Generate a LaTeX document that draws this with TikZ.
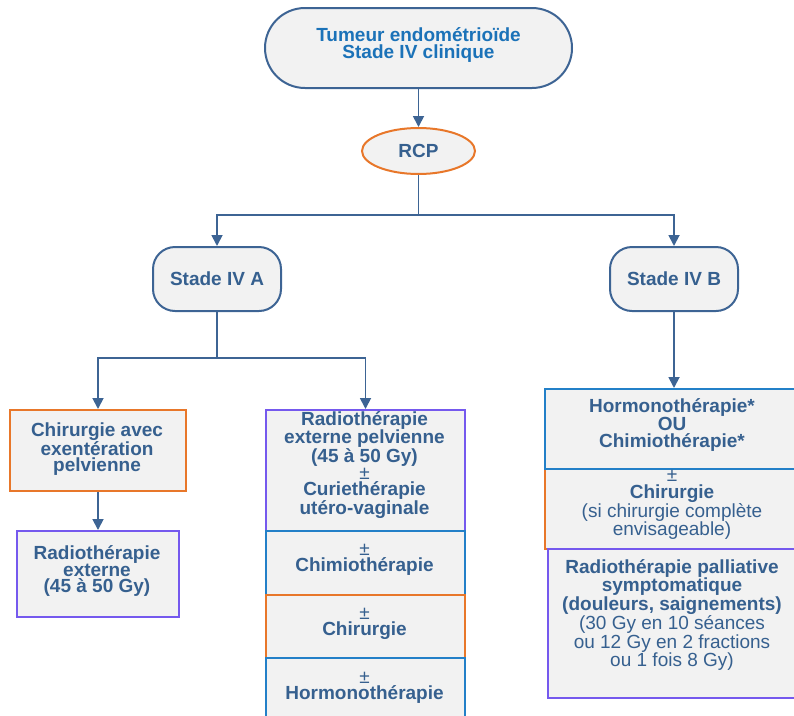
\documentclass[tikz,border=0pt]{standalone}
\usepackage{fontspec}
\setmainfont{Liberation Sans}
\usetikzlibrary{arrows.meta,shapes.geometric}
\definecolor{cline}{HTML}{3D6494}
\definecolor{ctext}{HTML}{36608F}
\definecolor{ctop}{HTML}{1B72B8}
\definecolor{corange}{HTML}{E8772A}
\definecolor{cpurple}{HTML}{7559EE}
\definecolor{cblue}{HTML}{2380C8}
\definecolor{cfill}{HTML}{F2F2F2}
\begin{document}
\begin{tikzpicture}[x=1pt,y=-1pt,
  box/.style={draw, fill=cfill, line width=2pt, inner sep=0pt, anchor=north west},
  txt/.style={text=ctext, align=center, inner sep=0pt,
    font=\fontsize{19}{16.5}\selectfont\bfseries},
  stadebox/.style={draw=cline, fill=cfill, line width=2pt, rounded corners=22pt,
    minimum width=128pt, minimum height=64pt, inner sep=0pt, text=ctext,
    font=\fontsize{19}{16.5}\selectfont\bfseries},
  conn/.style={draw=cline, line width=1.8pt},
  arr/.style={conn, -{Triangle[length=11pt,width=11pt]}}
]
\useasboundingbox (0,0) rectangle (794,715);
\clip (0,0) rectangle (794,715);

% top
\node[draw=cline, fill=cfill, line width=2pt, rounded corners=40pt,
  minimum width=307pt, minimum height=80pt, inner sep=0pt] (top) at (418.5,48) {};
\node[txt, text=ctop] (toptxt) at (418.5,45) {Tumeur endométrioïde\\Stade IV clinique};

% RCP
\node[ellipse, draw=corange, fill=cfill, line width=2pt, minimum width=113pt,
  minimum height=46pt, inner sep=0pt, txt] (rcp) at (418.5,151) {RCP};

% stades
\node[stadebox] (sa) at (217,279) {Stade IV A};
\node[stadebox] (sb) at (674,279) {Stade IV B};

% left branch
\node[box, draw=corange, minimum width=176pt, minimum height=81pt] (l1) at (9,409) {};
\node[txt] (l1t) at (97,449) {Chirurgie avec\\exentération\\pelvienne};
\node[box, draw=cpurple, minimum width=162pt, minimum height=86pt] (l2) at (16,530) {};
\node[txt] (l2t) at (97,571) {Radiothérapie\\externe\\(45 à 50 Gy)};

% middle stack
\node[box, draw=cpurple, minimum width=199pt, minimum height=121pt] (m1) at (265,409) {};
\node[txt] (m1t) at (364.5,465) {Radiothérapie\\externe pelvienne\\(45 à 50 Gy)\\{\mdseries ±}\\Curiethérapie\\utéro-vaginale};
\node[box, draw=cblue, minimum width=199pt, minimum height=64pt] (m2) at (265,530) {};
\node[txt] (m2t) at (364.5,560) {{\mdseries ±}\\Chimiothérapie};
\node[box, draw=corange, minimum width=199pt, minimum height=63pt] (m3) at (265,594) {};
\node[txt] (m3t) at (364.5,624) {{\mdseries ±}\\Chirurgie};
\node[box, draw=cblue, minimum width=199pt, minimum height=80pt] (m4) at (265,657) {};
\node[txt] (m4t) at (364.5,688) {{\mdseries ±}\\Hormonothérapie};

% right stack
\node[box, draw=corange, minimum width=253pt, minimum height=80pt] (r2) at (544,468) {};
\node[box, draw=cblue, minimum width=253pt, minimum height=80pt] (r1) at (544,388) {};
\node[box, draw=cpurple, minimum width=250pt, minimum height=149pt] (r3) at (547,548) {};
\node[txt] (r1t) at (672,425) {Hormonothérapie*\\OU\\Chimiothérapie*};
\node[txt] (r2t) at (672,505) {{\mdseries ±}\\Chirurgie\\{\mdseries (si chirurgie complète}\\{\mdseries envisageable)}};
\node[txt] (r3t) at (672,615) {Radiothérapie palliative\\symptomatique\\(douleurs, saignements)\\{\mdseries (30 Gy en 10 séances}\\{\mdseries ou 12 Gy en 2 fractions}\\{\mdseries ou 1 fois 8 Gy)}};

% connectors
\coordinate (j1) at (418.5,215);
\coordinate (j2) at (217,358);
\draw[arr] (top) -- (rcp);
\draw[conn] (rcp) -- (j1);
\draw[arr] (j1) -| (sa.north);
\draw[arr] (j1) -| (sb.north);
\draw[conn] (sa) -- (j2);
\draw[arr] (j2) -| (l1.north);
\draw[arr] (j2) -| (m1.north);
\draw[arr] (l1) -- (l2);
\draw[arr] (sb.south) -- (sb.south |- r1.north);
\end{tikzpicture}
\end{document}
